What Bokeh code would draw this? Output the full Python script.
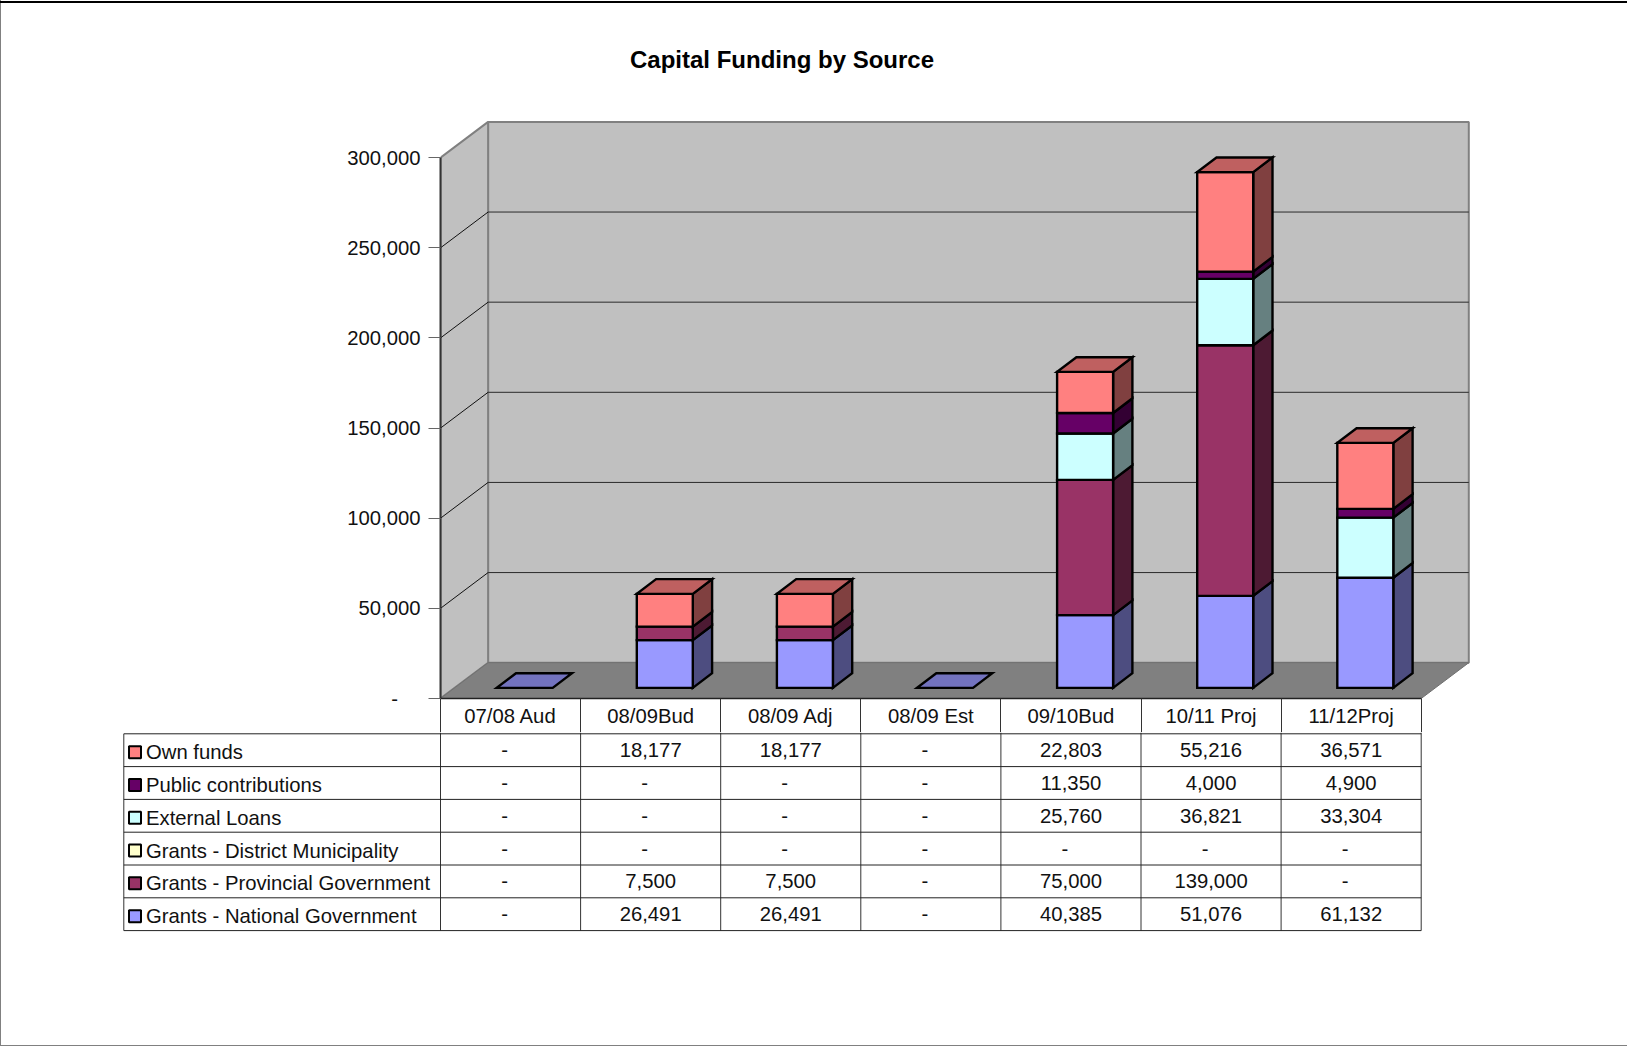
from bokeh.core.properties import value
from bokeh.embed import file_html
from bokeh.layouts import column, row
from bokeh.models import ColumnDataSource, FixedTicker, Label, LinearAxis, NumeralTickFormatter, Range1d
from bokeh.plotting import figure
from bokeh.resources import INLINE

# Funding table, R('000)
categories = ["07/08 Aud", "08/09Bud", "08/09 Adj", "08/09 Est", "09/10Bud", "10/11 Proj", "11/12Proj"]
national = [0, 26491, 26491, 0, 40385, 51076, 61132]
provincial = [0, 7500, 7500, 0, 75000, 139000, 0]
district = [0, 0, 0, 0, 0, 0, 0]
loans = [0, 0, 0, 0, 25760, 36821, 33304]
public = [0, 0, 0, 0, 11350, 4000, 4900]
own = [0, 18177, 18177, 0, 22803, 55216, 36571]
y_ticks = [0, 50000, 100000, 150000, 200000, 250000, 300000]

# Stacking order runs bottom to top: (legend name, values, front, side, top)
stack = [
    ("Grants - National Government", national, "#9999FF", "#4D4D80", "#7373BF"),
    ("Grants - Provincial Government", provincial, "#993366", "#4D1A33", "#732640"),
    ("Grants - District Municipality", district, "#FFFFCC", "#808066", "#BFBF99"),
    ("External Loans", loans, "#CCFFFF", "#668080", "#99BFBF"),
    ("Public contributions", public, "#660066", "#330033", "#4D004D"),
    ("Own funds", own, "#FF8080", "#804040", "#BF6060"),
]

FONT_NAME = "Liberation Sans"
FONT = value(FONT_NAME)
TEXT_SIZE = "20.3px"
PAGE_W, PAGE_H = 1627, 1046
FRAME_H = 698                 # baseline of the value axis, from the page top
CHART_H = 732                 # the category row hangs below the baseline
AXIS_X = 440
COL_W = 140.1
PLOT_PX = 540.8
UX = 1 / COL_W                # category units per pixel
UY = y_ticks[-1] / PLOT_PX    # value units per pixel

# Oblique projection of the box and of the columns inside it
WALL_DX, WALL_DY = 47.6 * UX, 35.8 * UY
BAR_W = 56 * UX
BAR_LEFT = 56.2 * UX
BAR_LIFT = 10.6 * UY
BAR_DX, BAR_DY = 19.3 * UX, 14.7 * UY
OUTLINE = 2.4

n = len(categories)
top = y_ticks[-1]

# The page frame is painted behind the transparent canvases
RULE_GREY = "#808080"
LEFT_RULE = f"linear-gradient({RULE_GREY},{RULE_GREY}) 0 0/1px 100% no-repeat"
TOP_RULE = "linear-gradient(#000,#000) 0 1px/100% 2px no-repeat"
BOTTOM_RULE = f"linear-gradient({RULE_GREY},{RULE_GREY}) 0 100%/100% 1px no-repeat"

chart = figure(
    width=PAGE_W, height=CHART_H, output_backend="svg", toolbar_location=None,
    x_range=Range1d(0, (PAGE_W - AXIS_X - 147) * UX),
    y_range=Range1d(0, FRAME_H * UY),
    x_axis_location=None, y_axis_location=None,
    min_border_left=AXIS_X, min_border_right=147, min_border_top=0,
    min_border_bottom=CHART_H - FRAME_H,
    outline_line_color=None, border_fill_color=None, background_fill_color=None,
    styles={"background": f"{TOP_RULE},{LEFT_RULE}"},
)
chart.grid.visible = False

y_axis = LinearAxis(
    bounds=(0, top),
    ticker=FixedTicker(ticks=y_ticks),
    formatter=NumeralTickFormatter(format="0,0"),
    major_label_overrides={0: "-\u00a0\u00a0\u00a0\u00a0"},
    major_label_text_font=FONT_NAME, major_label_text_font_size=TEXT_SIZE,
    major_label_text_color="#111111", major_label_standoff=8,
    major_tick_in=0, major_tick_out=12, major_tick_line_color="#666666", major_tick_line_width=1,
    minor_tick_line_color=None, axis_line_color="#333333", axis_line_width=2,
)
chart.add_layout(y_axis, "left")

# Category names sit between the column rules, which are drawn as minor ticks;
# the negative standoff brings the names back up alongside those rules
centres = [i + 0.5 for i in range(n)]
x_axis = LinearAxis(
    bounds=(0, n),
    ticker=FixedTicker(ticks=centres, minor_ticks=list(range(n + 1))),
    major_label_overrides=dict(zip(centres, categories)),
    major_label_text_font=FONT_NAME, major_label_text_font_size=TEXT_SIZE,
    major_label_text_color="#111111", major_label_standoff=-28,
    major_tick_in=0, major_tick_out=0, major_tick_line_color=None,
    minor_tick_in=0, minor_tick_out=CHART_H - FRAME_H, minor_tick_line_color="#333333", minor_tick_line_width=1,
    axis_line_color="#222222", axis_line_width=1.5,
)
chart.add_layout(x_axis, "below")

# Walls and floor
EDGE = "#808080"
chart.patch([WALL_DX, n + WALL_DX, n + WALL_DX, WALL_DX],
            [WALL_DY, WALL_DY, top + WALL_DY, top + WALL_DY],
            fill_color="#C0C0C0", line_color=EDGE, line_width=2)
chart.patch([0, WALL_DX, WALL_DX, 0], [0, WALL_DY, top + WALL_DY, top],
            fill_color="#C0C0C0", line_color=EDGE, line_width=2)
chart.patch([0, n, n + WALL_DX, WALL_DX], [0, 0, WALL_DY, WALL_DY],
            fill_color="#808080", line_color="#707070", line_width=1)

# Gridlines across the back wall and down the side wall
inner = y_ticks[1:-1]
chart.segment(x0=[WALL_DX] * len(inner), y0=[t + WALL_DY for t in inner],
              x1=[n + WALL_DX] * len(inner), y1=[t + WALL_DY for t in inner],
              line_color="#2A2A2A", line_width=1)
chart.segment(x0=[0] * len(inner), y0=inner,
              x1=[WALL_DX] * len(inner), y1=[t + WALL_DY for t in inner],
              line_color="#111111", line_width=1)


def add_face(xs, ys, colour):
    chart.patch(xs, ys, fill_color=colour, line_color="black", line_width=OUTLINE, line_join="miter")


# Stacked columns, drawn bottom segment first so upper ones overlap correctly
for i in range(n):
    x0 = i + BAR_LEFT
    x1 = x0 + BAR_W
    base = BAR_LIFT
    last = None
    for name, values, front, side, cap in stack:
        v = values[i]
        if v == 0:
            continue
        add_face([x1, x1 + BAR_DX, x1 + BAR_DX, x1],
                 [base, base + BAR_DY, base + v + BAR_DY, base + v], side)
        add_face([x0, x1, x1, x0], [base, base, base + v, base + v], front)
        base += v
        last = cap
    # Only the uppermost segment shows its top; empty columns show a flat tile
    add_face([x0, x1, x1 + BAR_DX, x0 + BAR_DX],
             [base, base, base + BAR_DY, base + BAR_DY], last or stack[0][4])

chart.add_layout(Label(x=781.5, y=59, x_units="canvas", y_units="canvas",
                       text="Capital Funding by Source", text_font=FONT_NAME,
                       text_font_size="24px", text_font_style="bold", text_color="#000000",
                       text_align="center", text_baseline="middle"))
chart.add_layout(Label(x=329, y=150000, x_units="canvas", y_units="data",
                       text="R('000)", text_font=FONT_NAME,
                       text_font_size="20px", text_font_style="bold", text_color="#000000",
                       text_align="right", text_baseline="middle"))

# Data table under the chart, measured in row heights from the first rule
TABLE_H = PAGE_H - CHART_H
TABLE_TOP = 1.3
ROW_PX = 32.8
LABEL_LEFT = -(AXIS_X - 123.3) * UX
DASH_SHIFT = 6 * UX

table = figure(
    width=PAGE_W, height=TABLE_H, output_backend="svg", toolbar_location=None,
    x_range=Range1d(-AXIS_X * UX, (PAGE_W - AXIS_X) * UX),
    y_range=Range1d((TABLE_H - TABLE_TOP) / ROW_PX, -TABLE_TOP / ROW_PX),
    x_axis_location=None, y_axis_location=None,
    min_border=0, outline_line_color=None, border_fill_color=None, background_fill_color=None,
    styles={"background": f"{BOTTOM_RULE},{LEFT_RULE}"},
)
table.grid.visible = False

rows = list(reversed(stack))
bottom = len(rows)
col_edges = list(range(n + 1))
row_edges = list(range(len(rows) + 1))
table.segment(x0=col_edges, y0=[-TABLE_TOP / ROW_PX] * len(col_edges), x1=col_edges, y1=[bottom] * len(col_edges),
              line_color="#333333", line_width=1)
table.segment(x0=[LABEL_LEFT], y0=[0], x1=[LABEL_LEFT], y1=[bottom],
              line_color="#333333", line_width=1)
table.segment(x0=[LABEL_LEFT] * len(row_edges), y0=row_edges, x1=[n] * len(row_edges), y1=row_edges,
              line_color="#222222", line_width=1)

cell_x, cell_y, cell_t = [], [], []
for r, (name, values, *_colours) in enumerate(rows):
    for i, v in enumerate(values):
        cell_x.append(i + 0.5 - (DASH_SHIFT if v == 0 else 0))
        cell_y.append(r + 0.5)
        cell_t.append(f"{v:,}" if v else "-")
cell_src = ColumnDataSource(dict(x=cell_x, y=cell_y, t=cell_t))
table.text("x", "y", text="t", source=cell_src, text_font=FONT, text_font_size=value(TEXT_SIZE),
           text_align="center", text_baseline="middle", text_color="#111111")

legend_y = [r + 0.56 for r in range(len(rows))]
swatch_x = [LABEL_LEFT + 11.2 * UX] * len(rows)
table.scatter(swatch_x, legend_y, marker="square", size=12,
              fill_color=[r[2] for r in rows], line_color="black", line_width=2)
legend_src = ColumnDataSource(dict(x=[LABEL_LEFT + 22.2 * UX] * len(rows), y=legend_y, t=[r[0] for r in rows]))
table.text("x", "y", text="t", source=legend_src, text_font=FONT, text_font_size=value(TEXT_SIZE),
           text_align="left", text_baseline="middle", text_color="#111111")

page = column(row(chart), row(table), spacing=0)
open("out.html", "w").write(file_html(page, INLINE))
